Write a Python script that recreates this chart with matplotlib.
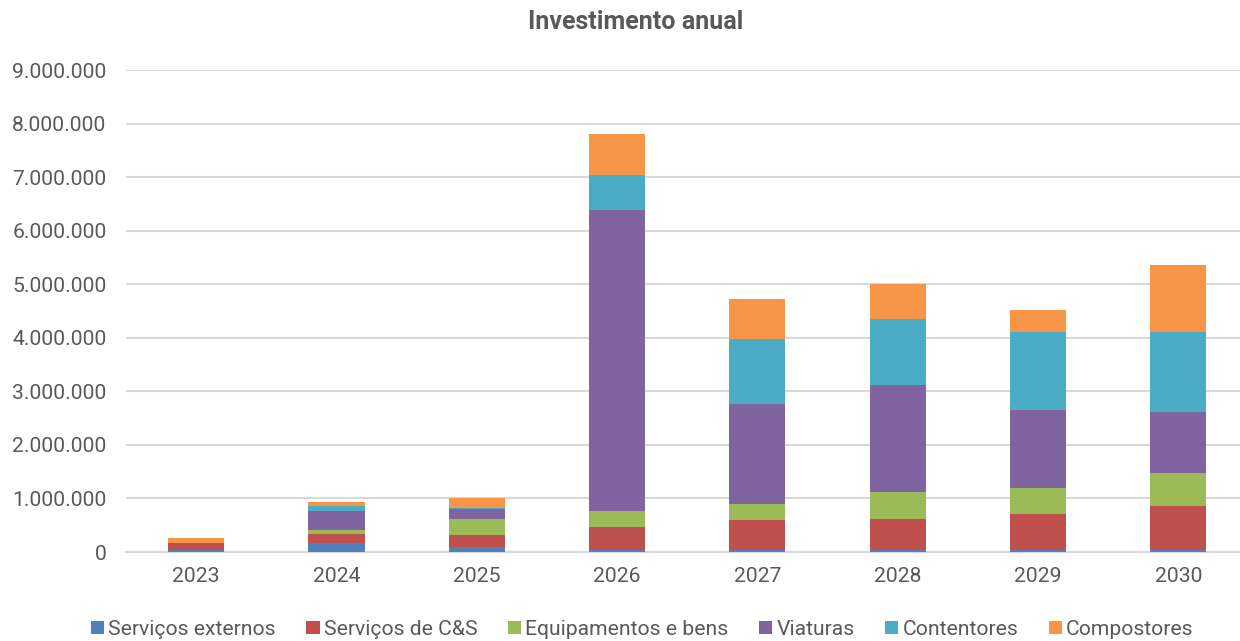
import numpy as np
import matplotlib.pyplot as plt
from matplotlib.patches import Patch
from matplotlib.ticker import FuncFormatter

plt.rcParams['font.family'] = ['Roboto', 'DejaVu Sans']

anos = ['2023', '2024', '2025', '2026', '2027', '2028', '2029', '2030']
servicos_externos = [30000, 163000, 88000, 40000, 40000, 40000, 40000, 40000]
servicos_cs = [139000, 181000, 237000, 427000, 563000, 582000, 675000, 825000]
equipamentos = [0, 69000, 294000, 298000, 299000, 498000, 479000, 609000]
viaturas = [0, 356000, 181000, 5618000, 1854000, 1990000, 1450000, 1145000]
contentores = [0, 81000, 25000, 665000, 1213000, 1232000, 1456000, 1493000]
compostores = [94000, 88000, 188000, 765000, 753000, 666000, 416000, 1250000]

series = [
    ('Serviços externos', servicos_externos, '#4F81BD'),
    ('Serviços de C&S', servicos_cs, '#C0504D'),
    ('Equipamentos e bens', equipamentos, '#9BBB59'),
    ('Viaturas', viaturas, '#8064A2'),
    ('Contentores', contentores, '#4BACC6'),
    ('Compostores', compostores, '#F79646'),
]

cinza = '#595959'

fig = plt.figure(figsize=(12.4, 6.41), dpi=100)
ax = fig.add_axes([126 / 1240, 89 / 641, 1114 / 1240, 482 / 641])

x = np.arange(len(anos))
base = np.zeros(len(anos))
for nome, valores, cor in series:
    ax.bar(x, valores, width=0.4, bottom=base, color=cor, label=nome, zorder=3)
    base += np.array(valores)

ax.set_ylim(0, 9000000)
ax.set_yticks(np.arange(0, 9000001, 1000000))
ax.yaxis.set_major_formatter(FuncFormatter(lambda v, p: f'{int(v):,}'.replace(',', '.')))
ax.set_xlim(-0.5, 7.44)
ax.set_xticks(x)
ax.set_xticklabels(anos)

ax.grid(axis='y', color='#D9D9D9', linewidth=1.5, zorder=0)
for lado in ['top', 'right', 'left']:
    ax.spines[lado].set_visible(False)
ax.spines['bottom'].set_color('#D9D9D9')
ax.spines['bottom'].set_linewidth(1.5)
ax.tick_params(axis='both', length=0, labelsize=15.2, labelcolor=cinza)
ax.tick_params(axis='y', pad=14)
ax.tick_params(axis='x', pad=11)

fig.text(0.513, 0.966, 'Investimento anual', ha='center', va='center',
         fontsize=18, fontweight='bold', color=cinza)

alcas = [Patch(facecolor=cor, label=nome) for nome, _, cor in series]
fig.legend(handles=alcas, loc='center', bbox_to_anchor=(0.518, 0.018), ncol=6,
           frameon=False, fontsize=15.2, handlelength=0.62, handleheight=0.62,
           handletextpad=0.2, columnspacing=1.45, labelcolor=cinza)

fig.savefig('out.png', dpi=100)
